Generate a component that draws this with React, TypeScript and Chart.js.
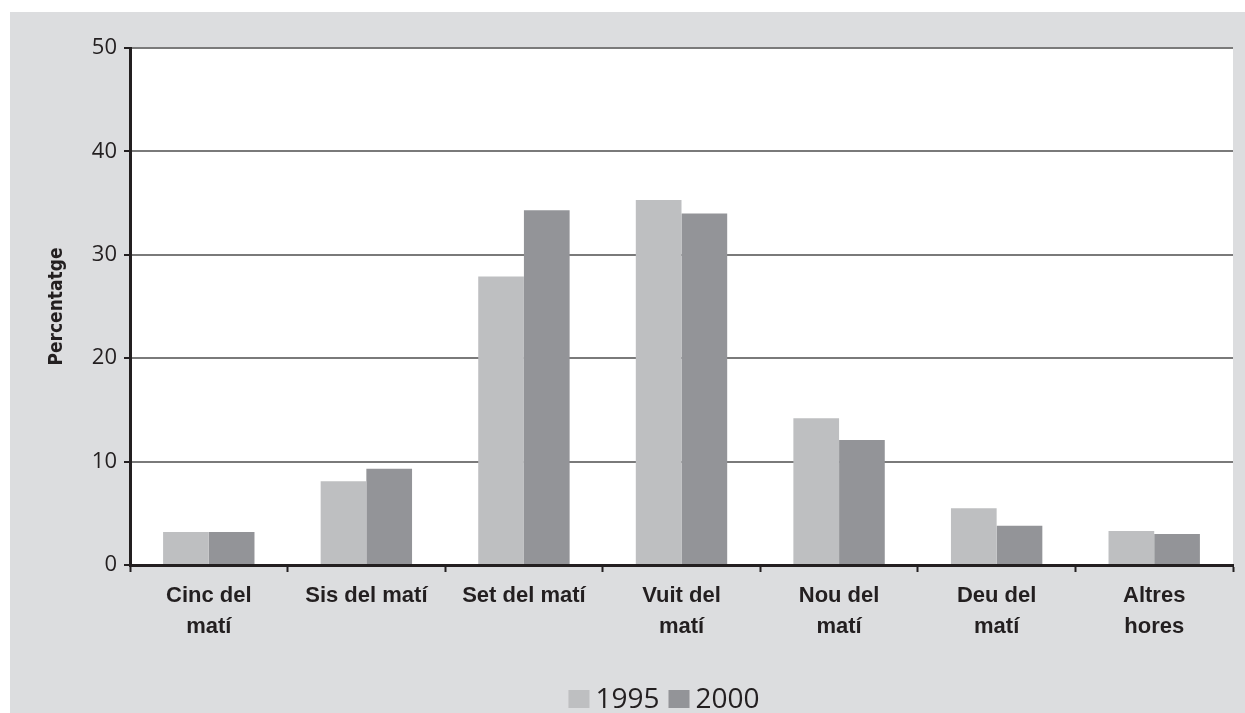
import React, { useEffect, useRef } from "react";
import { Chart, registerables } from "chart.js";

Chart.register(...registerables);

const categories: string[][] = [
  ["Cinc del", "matí"],
  ["Sis del matí"],
  ["Set del matí"],
  ["Vuit del", "matí"],
  ["Nou del", "matí"],
  ["Deu del", "matí"],
  ["Altres", "hores"],
];
const series1995: number[] = [3.2, 8.1, 27.9, 35.3, 14.2, 5.5, 3.3];
const series2000: number[] = [3.2, 9.3, 34.3, 34.0, 12.1, 3.8, 3.0];
const seriesLabels: string[] = ["1995", "2000"];
const yTicks: number[] = [0, 10, 20, 30, 40, 50];
const yTitle = "Percentatge";

const COL_1995 = "#bebfc1";
const COL_2000 = "#939498";
const BG = "#dcdddf";
const INK = "#231f20";

const bgPlugin = {
  id: "bgPlugin",
  beforeDraw(chart: any) {
    const { ctx, chartArea } = chart;
    ctx.save();
    ctx.fillStyle = BG;
    ctx.fillRect(10, 12, chart.width - 10, chart.height - 12);
    ctx.fillStyle = "#ffffff";
    ctx.fillRect(chartArea.left, chartArea.top, chartArea.right - chartArea.left, chartArea.bottom - chartArea.top);
    ctx.restore();
  },
};

const legendPlugin = {
  id: "customLegend",
  afterDraw(chart: any) {
    const { ctx } = chart;
    const ds = chart.data.datasets;
    ctx.save();
    ctx.font = "28px 'Open Sans', sans-serif";
    ctx.textBaseline = "alphabetic";
    const boxW = 21;
    const boxH = 18;
    const gap = 6;
    const itemGap = 9;
    const widths = ds.map((d: any) => boxW + gap + ctx.measureText(d.label).width);
    const total = widths.reduce((a: number, b: number) => a + b, 0) + itemGap * (ds.length - 1);
    let x = 664 - total / 2;
    const baseline = 708;
    ds.forEach((d: any, i: number) => {
      ctx.fillStyle = d.backgroundColor;
      ctx.fillRect(x, baseline - boxH, boxW, boxH);
      ctx.fillStyle = INK;
      ctx.fillText(d.label, x + boxW + gap, baseline);
      x += widths[i] + itemGap;
    });
    ctx.restore();
  },
};

export default function App() {
  const ref = useRef<HTMLCanvasElement>(null);

  useEffect(() => {
    if (!ref.current) return;
    const chart = new Chart(ref.current, {
      type: "bar",
      data: {
        labels: categories,
        datasets: [
          { label: seriesLabels[0], data: series1995, backgroundColor: COL_1995, borderWidth: 0 },
          { label: seriesLabels[1], data: series2000, backgroundColor: COL_2000, borderWidth: 0 },
        ],
      },
      options: {
        responsive: false,
        animation: false,
        layout: { padding: { left: 0, right: 12, top: 48, bottom: 0 } },
        datasets: {
          bar: { categoryPercentage: 0.58, barPercentage: 1.0 },
        },
        plugins: {
          legend: { display: false },
          tooltip: { enabled: false },
        },
        scales: {
          x: {
            offset: true,
            grid: {
              display: true,
              offset: true,
              drawOnChartArea: false,
              drawTicks: true,
              tickLength: 7,
              tickColor: INK,
              tickWidth: 2,
            },
            border: { display: true, color: INK, width: 3 },
            ticks: {
              color: INK,
              font: { family: "'Liberation Sans', Arial, sans-serif", size: 22, weight: "bold", lineHeight: 1.38 },
              padding: 9,
              maxRotation: 0,
              autoSkip: false,
            },
            afterFit(scale: any) {
              scale.height = 148;
            },
          },
          y: {
            min: 0,
            max: 50,
            afterBuildTicks(scale: any) {
              scale.ticks = yTicks.map((v) => ({ value: v }));
            },
            grid: {
              color: "#7a7a7a",
              lineWidth: 2,
              drawTicks: true,
              tickLength: 6,
              tickColor: INK,
              tickWidth: 2,
            },
            border: { display: true, color: INK, width: 3 },
            ticks: {
              color: INK,
              font: { family: "'Open Sans', sans-serif", size: 22 },
              padding: 7,
            },
            title: {
              display: true,
              text: yTitle,
              color: INK,
              font: { family: "'Liberation Sans Narrow', 'DejaVu Sans Condensed', sans-serif", size: 19, weight: "bold" },
              padding: { top: 46, bottom: 0 },
            },
            afterFit(scale: any) {
              scale.width = 130;
            },
          },
        },
      },
      plugins: [bgPlugin, legendPlugin],
    });
    return () => chart.destroy();
  }, []);

  return (
    <div style={{ position: "absolute", left: 0, top: 0, width: 1245, height: 713, background: "#ffffff" }}>
      <canvas ref={ref} width={1245} height={713} style={{ display: "block" }} />
    </div>
  );
}
